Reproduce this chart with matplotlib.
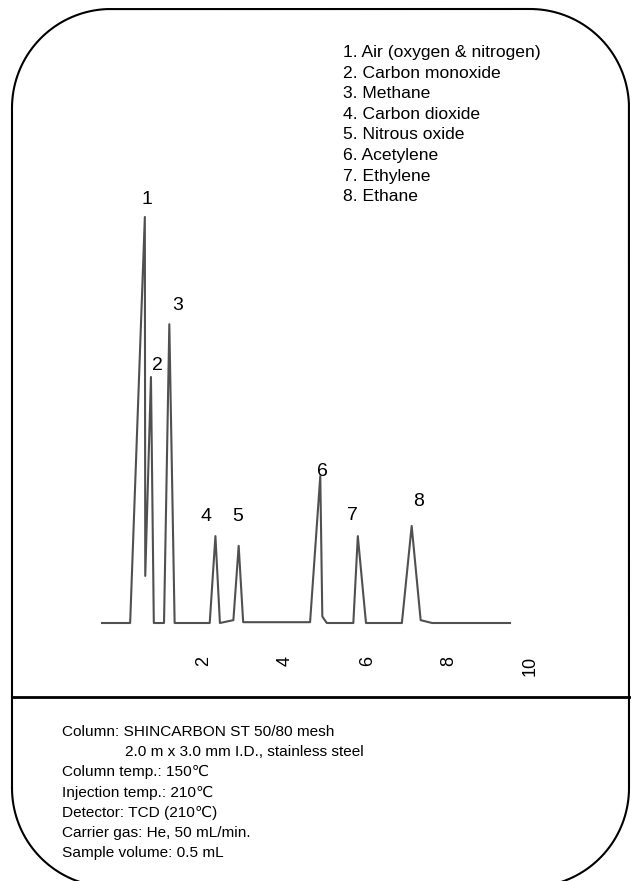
import numpy as np
import matplotlib
matplotlib.use('Agg')
import matplotlib.pyplot as plt

# ---- chromatogram trace (retention time in min, relative signal) ----
tiempo = [-0.50, 0.19, 0.55, 0.56, 0.70, 0.77, 1.02, 1.15, 1.28, 2.14, 2.28, 2.39,
          2.72, 2.85, 2.96, 4.60, 4.85, 4.90, 5.01, 5.66, 5.77, 5.97, 6.85, 7.09,
          7.31, 7.59, 9.50]
senal = [0, 0, 100, 11.6, 60.6, 0, 0, 73.6, 0, 0, 21.4, 0,
         0.7, 19.0, 0.2, 0.2, 36.2, 1.6, 0, 0, 21.4, 0, 0, 23.9,
         0.7, 0, 0]

# peak apex (time, signal) and number
pico_t = [0.55, 0.70, 1.15, 2.28, 2.85, 4.85, 5.77, 7.09]
pico_h = [100, 60.6, 73.6, 21.4, 19.0, 36.2, 21.4, 23.9]
pico_num = ['1', '2', '3', '4', '5', '6', '7', '8']
# label offsets from apex, pixels
pico_off = [(2, 13), (6, 7), (8, 14), (-9, 15), (-1, 25), (2, 0), (-5, 16), (7, 20)]

ticks = [2, 4, 6, 8, 10]

compuestos = ['1. Air (oxygen & nitrogen)', '2. Carbon monoxide', '3. Methane',
              '4. Carbon dioxide', '5. Nitrous oxide', '6. Acetylene',
              '7. Ethylene', '8. Ethane']

condiciones = ['Column: SHINCARBON ST 50/80 mesh',
               '2.0 m x 3.0 mm I.D., stainless steel',
               'Column temp.: 150\u2103',
               'Injection temp.: 210\u2103',
               'Detector: TCD (210\u2103)',
               'Carrier gas: He, 50 mL/min.',
               'Sample volume: 0.5 mL']

plt.rcParams['font.family'] = ['Liberation Sans', 'DejaVu Sans']

W, H = 631, 881
fig = plt.figure(figsize=(W / 100, H / 100), dpi=100)

# overlay in pixel coordinates for frame and text
ov = fig.add_axes([0, 0, 1, 1])
ov.set_xlim(0, W)
ov.set_ylim(H, 0)
ov.axis('off')

# rounded frame
def arco(cx, cy, r, a0, a1):
    a = np.radians(np.linspace(a0, a1, 40))
    return cx + r * np.cos(a), cy - r * np.sin(a)

L, R, T, B, r = 12, 629, 9, 887, 99
xs, ys = [], []
for cx, cy, a0, a1 in [(L + r, B - r, 180, 270), (R - r, B - r, 270, 360),
                       (R - r, T + r, 0, 90), (L + r, T + r, 90, 180)]:
    ax_, ay_ = arco(cx, cy, r, a0, a1)
    xs.extend(ax_)
    ys.extend(ay_)
xs.append(xs[0])
ys.append(ys[0])
ov.plot(xs, ys, color='black', lw=1.5, clip_on=False)

# separator
ov.plot([L, W], [696.5, 696.5], color='black', lw=2.0)

# legend of compounds
for i, txt in enumerate(compuestos):
    ov.text(343, 57 + 20.6 * i, txt, fontsize=12.6, va='baseline', ha='left')

# conditions
for i, txt in enumerate(condiciones):
    ov.text(125 if i == 1 else 62, 736 + 20.2 * i, txt, fontsize=11.1,
            va='baseline', ha='left')

# chromatogram axes: baseline at y=623 px, x = 122.4 + 40.8 t px
x0, x1 = -0.5, 10.2
px_left = 122.4 + 40.8 * x0
px_w = 40.8 * (x1 - x0)
ax = fig.add_axes([px_left / W, (H - 623) / H, px_w / W, 406 / H])
ax.plot(tiempo, senal, color='#505050', lw=1.5, clip_on=False)
ax.set_xlim(x0, x1)
ax.set_ylim(0, 100)
ax.patch.set_alpha(0)
for s in ax.spines.values():
    s.set_visible(False)
ax.set_yticks([])
ax.set_xticks(ticks)
ax.set_xticklabels([str(t) for t in ticks], rotation=90, fontsize=13)
ax.tick_params(axis='x', length=0, pad=24)

for t, h, n, (dx, dy) in zip(pico_t, pico_h, pico_num, pico_off):
    ax.annotate(n, (t, h), xytext=(dx, dy), textcoords='offset pixels',
                ha='center', va='baseline', fontsize=14, annotation_clip=False)

plt.savefig('out.png', dpi=100)
